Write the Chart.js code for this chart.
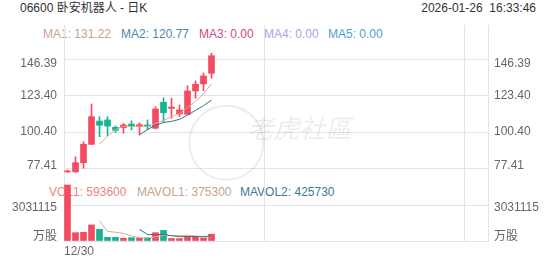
<!DOCTYPE html>
<html>
<head>
<meta charset="utf-8">
<style>
html,body{margin:0;padding:0;background:#fff;}
#wrap{position:relative;width:552px;height:265px;overflow:hidden;font-family:"Liberation Sans","Noto Sans CJK SC",sans-serif;}
#c{position:absolute;left:0;top:0;z-index:2;}
.t{position:absolute;font-size:12px;line-height:14px;white-space:pre;z-index:1;}
</style>
<script src="https://cdn.jsdelivr.net/npm/chart.js@4/dist/chart.umd.min.js"></script>
</head>
<body>
<div id="wrap">
  <div class="t" style="left:20px;top:1px;color:#333;">06600 卧安机器人 - 日K</div>
  <div class="t" style="right:16px;top:1px;color:#333;">2026-01-26  16:33:46</div>
  <div class="t" style="left:43px;top:27px;color:#c8a38c;">MA1: 131.22</div>
  <div class="t" style="left:121px;top:27px;color:#4e87ab;">MA2: 120.77</div>
  <div class="t" style="left:199px;top:27px;color:#c94b86;">MA3: 0.00</div>
  <div class="t" style="left:264px;top:27px;color:#a7a7e8;">MA4: 0.00</div>
  <div class="t" style="left:328px;top:27px;color:#4aa3d6;">MA5: 0.00</div>
  <div class="t" style="left:49px;top:185px;color:#ef7f86;">VOL1: 593600</div>
  <div class="t" style="left:137px;top:185px;color:#c8a38c;">MAVOL1: 375300</div>
  <div class="t" style="left:240px;top:185px;color:#3e7799;">MAVOL2: 425730</div>
  <canvas id="c" width="552" height="265"></canvas>
</div>
<script>
// ---- data ----
const dates = ['2025-12-30','2025-12-31','2026-01-02','2026-01-05','2026-01-06','2026-01-07','2026-01-08','2026-01-09','2026-01-12','2026-01-13','2026-01-14','2026-01-15','2026-01-16','2026-01-19','2026-01-20','2026-01-21','2026-01-22','2026-01-23','2026-01-26'];
const opens  = [74.9, 75.0, 80.8, 92.5, 107.4, 108.1, 103.4, 103.2, 105.5, 104.0, 104.9, 102.8, 119.4, 115.5, 111.9, 111.7, 126.6, 131.1, 137.9];
const closes = [75.4, 80.8, 92.5, 110.2, 104.7, 104.2, 101.5, 104.9, 104.2, 105.1, 104.0, 115.1, 112.7, 116.4, 114.5, 126.6, 130.9, 136.2, 149.1];
const highs  = [76.1, 84.6, 94.2, 118.3, 110.2, 110.2, 104.2, 106.0, 107.6, 106.3, 108.1, 116.6, 122.3, 121.9, 117.7, 130.0, 133.0, 138.1, 150.7];
const lows   = [74.6, 74.5, 77.2, 92.5, 97.4, 98.0, 100.2, 99.6, 101.7, 98.5, 101.7, 102.3, 106.6, 109.2, 110.2, 111.7, 121.9, 126.8, 134.7];
const ma1    = [null, null, null, null, 92.6, 97.8, 102.0, 104.0, 103.9, 103.9, 103.8, 106.0, 107.8, 110.2, 112.2, 116.0, 120.0, 124.8, 131.22];
const ma2    = [null, null, null, null, null, null, null, null, null, 98.6, 102.0, 104.7, 106.5, 107.2, 108.5, 111.2, 114.2, 117.2, 120.77];
const volumes = [4850000, 720000, 750000, 1390000, 1010000, 320000, 320000, 235000, 285000, 260000, 260000, 720000, 920000, 220000, 210000, 420000, 400000, 253000, 593600];
const mavol1 = [null, null, null, null, 1744000, 838000, 758000, 655000, 434000, 284000, 272000, 352000, 489000, 476000, 466000, 498000, 434000, 300600, 375300];
const mavol2 = [null, null, null, null, null, null, null, null, null, 1014000, 555000, 555000, 572000, 455000, 375000, 385000, 393000, 394800, 425730];
const priceTicks = [77.41, 100.40, 123.40, 146.39];
const priceTickLabels = ['77.41', '100.40', '123.40', '146.39'];
const volTicks = [0, 3031115];
const volTickLabels = ['万股', '3031115'];
const xTickLabels = ['12/30'];
const watermarkText = '老虎社區';

// ---- styles ----
const UP = '#f24b62', DOWN = '#17b394';
const GRID = '#e4e4e4', LABEL = '#666';
const FONT = '"Liberation Sans", "Noto Sans CJK SC", sans-serif';
const candleColor = (ctx) => closes[ctx.dataIndex] >= opens[ctx.dataIndex] ? UP : DOWN;
const pts = (arr) => arr.map((v, i) => ({x: i, y: v}));

const tickFont = (shifts) => (ctx) => {
  const s = shifts[ctx.index] || 0;
  return {family: FONT, size: 12, lineHeight: s ? (Math.abs(s) * 2) + 'px' : 1.2};
};
const tickLabel = (labels, shifts) => (v, i) => {
  const s = shifts[i] || 0;
  if (s > 0) return ['', labels[i]];
  if (s < 0) return [labels[i], ''];
  return labels[i];
};
const priceShift = [-2.5, 0, 0, 4];
const volShift = [-4.5, 2];

const watermark = {
  id: 'wm',
  beforeDatasetsDraw(chart) {
    const {ctx, chartArea: a} = chart;
    const w = a.right - a.left, h = a.bottom - a.top;
    ctx.save();
    ctx.fillStyle = 'rgba(0,0,0,0.075)';
    ctx.strokeStyle = 'rgba(0,0,0,0.075)';
    ctx.font = 'italic 26px "Noto Sans CJK SC"';
    ctx.textBaseline = 'middle';
    ctx.textAlign = 'left';
    ctx.fillText(watermarkText, a.left + w * 0.433, a.top + h * 0.477);
    ctx.lineWidth = 2;
    ctx.beginPath();
    ctx.arc(a.left + w * 0.383, a.top + h * 0.545, 37, 0, Math.PI * 2);
    ctx.stroke();
    ctx.restore();
  }
};

const yBase = (extra) => Object.assign({
  type: 'linear',
  bounds: 'data',
  grid: {color: GRID, drawTicks: false},
  border: {color: GRID},
  ticks: {autoSkip: false, color: LABEL},
}, extra);

new Chart(document.getElementById('c'), {
  type: 'bar',
  data: {
    datasets: [
      {label: 'wick', data: dates.map((d, i) => ({x: i, y: [lows[i], highs[i]]})), yAxisID: 'yP', xAxisID: 'x',
       backgroundColor: candleColor, barThickness: 1, grouped: false, order: 5},
      {label: 'body', data: dates.map((d, i) => ({x: i, y: [opens[i], closes[i]]})), yAxisID: 'yP', xAxisID: 'x',
       backgroundColor: candleColor, barThickness: 6, minBarLength: 1, grouped: false, order: 4},
      {type: 'line', label: 'MA1', data: pts(ma1), yAxisID: 'yP', borderColor: '#d3ad96', borderWidth: 1, pointRadius: 0, order: 2},
      {type: 'line', label: 'MA2', data: pts(ma2), yAxisID: 'yP', borderColor: '#3f6f90', borderWidth: 1, pointRadius: 0, order: 1},
      {label: 'VOL', data: pts(volumes), yAxisID: 'yV', xAxisID: 'x',
       backgroundColor: candleColor, barThickness: 6, minBarLength: 1, grouped: false, order: 5},
      {type: 'line', label: 'MAVOL1', data: pts(mavol1), yAxisID: 'yV', borderColor: '#d3ad96', borderWidth: 1, pointRadius: 0, order: 2},
      {type: 'line', label: 'MAVOL2', data: pts(mavol2), yAxisID: 'yV', borderColor: '#3f6f90', borderWidth: 1, pointRadius: 0, order: 1},
    ]
  },
  options: {
    responsive: false,
    animation: false,
    events: [],
    layout: {padding: {top: 25, left: 0, right: 0, bottom: 0}},
    plugins: {legend: {display: false}, tooltip: {enabled: false}},
    scales: {
      x: {
        type: 'linear', position: 'bottom', min: -0.4375, max: 52.5625, offset: false,
        afterBuildTicks: (s) => { s.ticks = [-0.4375, 24.5625, 49.5625].map(v => ({value: v})); },
        afterFit: (s) => { s.height = 24; },
        grid: {color: GRID, drawTicks: false, offset: false},
        border: {color: GRID},
        ticks: {autoSkip: false, maxRotation: 0, align: 'start', padding: 3, color: LABEL,
                font: {family: FONT, size: 12}, callback: (v, i) => (i === 0 ? xTickLabels[0] : '')}
      },
      yV: yBase({
        position: 'left', stack: 'L', stackWeight: 64, min: 0, max: 5542610,
        afterBuildTicks: (s) => { s.ticks = volTicks.map(v => ({value: v})); },
        afterFit: (s) => { s.width = 64; },
        ticks: {autoSkip: false, color: LABEL, padding: 7, font: tickFont(volShift), callback: tickLabel(volTickLabels, volShift)}
      }),
      yP: yBase({
        position: 'left', stack: 'L', stackWeight: 152, min: 71.662, max: 168.744,
        afterBuildTicks: (s) => { s.ticks = priceTicks.map(v => ({value: v})); },
        afterFit: (s) => { s.width = 64; },
        ticks: {autoSkip: false, color: LABEL, padding: 7, font: tickFont(priceShift), callback: tickLabel(priceTickLabels, priceShift)}
      }),
      yP2: yBase({
        position: 'right', stack: 'R', stackWeight: 152, min: 71.662, max: 168.744,
        afterBuildTicks: (s) => { s.ticks = priceTicks.map(v => ({value: v})); },
        afterFit: (s) => { s.width = 64; },
        grid: {display: true, drawOnChartArea: false, drawTicks: false, color: GRID},
        ticks: {autoSkip: false, color: LABEL, padding: 6, font: tickFont(priceShift), callback: tickLabel(priceTickLabels, priceShift)}
      }),
      yV2: yBase({
        position: 'right', stack: 'R', stackWeight: 64, min: 0, max: 5542610,
        afterBuildTicks: (s) => { s.ticks = volTicks.map(v => ({value: v})); },
        afterFit: (s) => { s.width = 64; },
        grid: {display: true, drawOnChartArea: false, drawTicks: false, color: GRID},
        ticks: {autoSkip: false, color: LABEL, padding: 6, font: tickFont(volShift), callback: tickLabel(volTickLabels, volShift)}
      })
    }
  },
  plugins: [watermark]
});
</script>
</body>
</html>
